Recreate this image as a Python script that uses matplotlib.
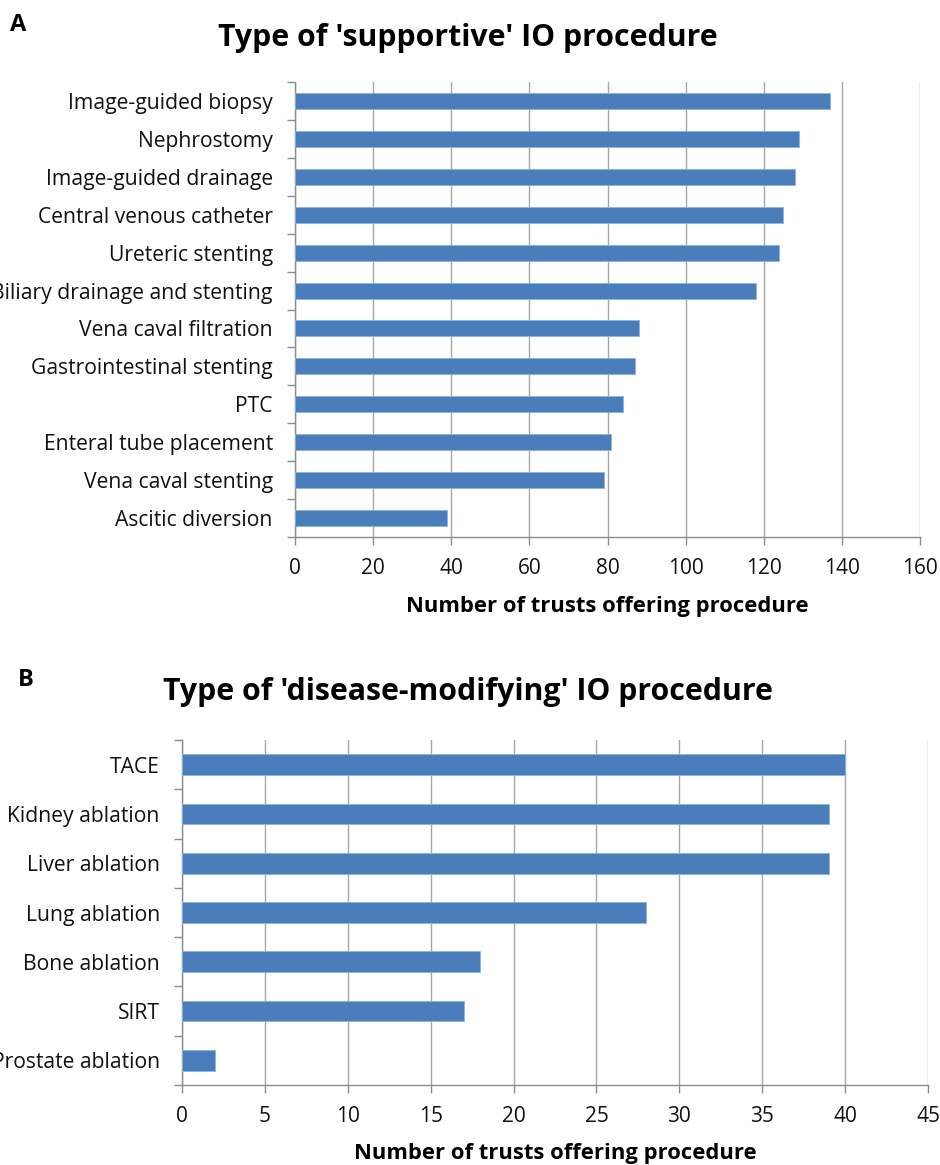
import matplotlib
matplotlib.use("Agg")
import matplotlib.pyplot as plt
from matplotlib.ticker import MultipleLocator, FixedLocator, NullFormatter

plt.rcParams["font.family"] = ["Open Sans", "DejaVu Sans"]

# Panel A: supportive procedures
supportive_labels = [
    "Image-guided biopsy",
    "Nephrostomy",
    "Image-guided drainage",
    "Central venous catheter",
    "Ureteric stenting",
    "Biliary drainage and stenting",
    "Vena caval filtration",
    "Gastrointestinal stenting",
    "PTC",
    "Enteral tube placement",
    "Vena caval stenting",
    "Ascitic diversion",
]
supportive_counts = [137, 129, 128, 125, 124, 118, 88, 87, 84, 81, 79, 39]

# Panel B: disease-modifying procedures
modifying_labels = [
    "TACE",
    "Kidney ablation",
    "Liver ablation",
    "Lung ablation",
    "Bone ablation",
    "SIRT",
    "Prostate ablation",
]
modifying_counts = [40, 39, 39, 28, 18, 17, 2]

BAR_COLOR = "#4A7EBB"
EDGE_COLOR = "#8DB3E2"
GRID_COLOR = "#A6A6A6"
AXIS_COLOR = "#8C8C8C"

W, H = 940, 1165
fig = plt.figure(figsize=(W / 100, H / 100), dpi=100)


def panel(rect, labels, counts, xmax, step, title, letter, title_y,
          letter_x, letter_y):
    ax = fig.add_axes(rect)
    n = len(labels)
    ypos = list(range(n))[::-1]
    ax.barh(ypos, counts, height=0.42, color=BAR_COLOR, edgecolor=EDGE_COLOR,
            linewidth=0.6, zorder=3)
    ax.set_xlim(0, xmax)
    ax.set_ylim(-0.5, n - 0.5)
    ax.xaxis.set_major_locator(MultipleLocator(step))
    ax.grid(axis="x", color=GRID_COLOR, linewidth=1.0, zorder=0)
    ax.set_yticks(ypos)
    ax.set_yticklabels(labels)
    ax.yaxis.set_minor_locator(FixedLocator([i - 0.5 for i in range(n + 1)]))
    ax.yaxis.set_minor_formatter(NullFormatter())
    ax.tick_params(axis="y", which="major", length=0, pad=16, labelsize=15.2,
                   labelcolor="#111111")
    ax.tick_params(axis="y", which="minor", length=6, width=1, color=AXIS_COLOR)
    ax.tick_params(axis="x", which="major", length=6, width=1, color=AXIS_COLOR,
                   labelsize=15, pad=9, labelcolor="#111111")
    for side in ("top", "right"):
        ax.spines[side].set_visible(False)
    for side in ("left", "bottom"):
        ax.spines[side].set_color(AXIS_COLOR)
        ax.spines[side].set_linewidth(1.0)
    ax.set_xlabel("Number of trusts offering procedure", fontsize=15.8,
                  fontweight="bold", labelpad=12)
    fig.text(0.498, title_y, title, ha="center", va="center", fontsize=21.8,
             fontweight="bold")
    fig.text(letter_x, letter_y, letter, ha="left", va="center", fontsize=17,
             fontweight="bold")
    return ax


panel([295 / W, 1 - 537 / H, 625 / W, 455 / H], supportive_labels,
      supportive_counts, 160, 20, "Type of 'supportive' IO procedure", "A",
      1 - 38 / H, 10 / W, 1 - 25 / H)
panel([182 / W, 1 - 1085 / H, 746 / W, 345 / H], modifying_labels,
      modifying_counts, 45, 5, "Type of 'disease-modifying' IO procedure", "B",
      1 - 692 / H, 18 / W, 1 - 680 / H)

fig.savefig("out.png", dpi=100, facecolor="white")
